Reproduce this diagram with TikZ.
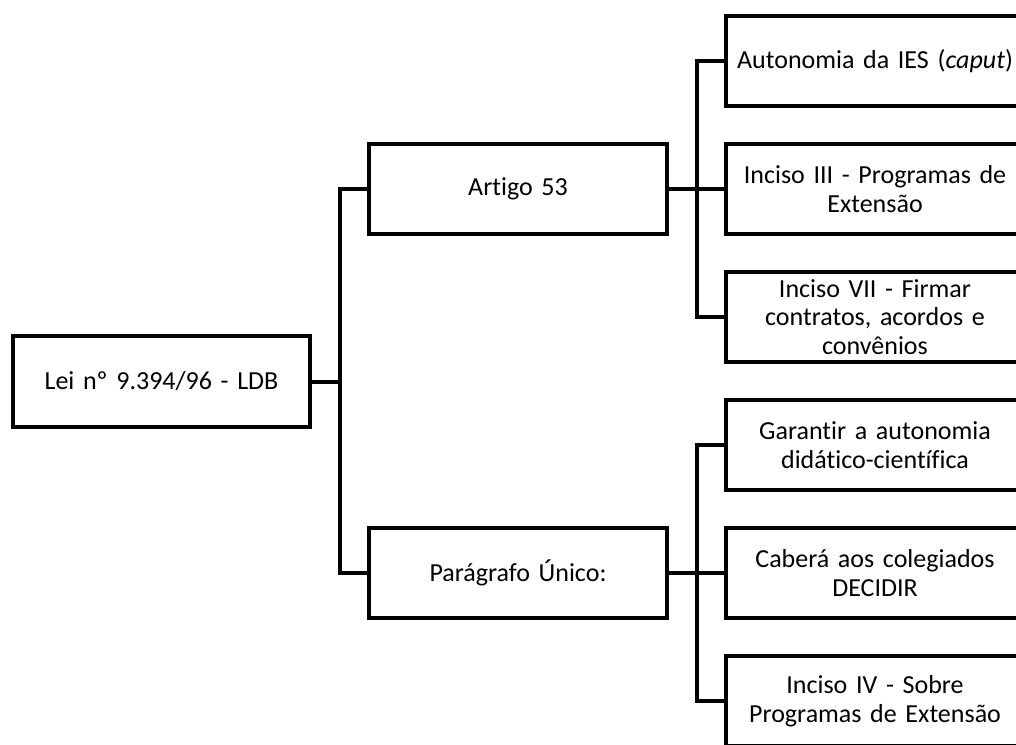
\documentclass[tikz,border=0pt]{standalone}
\usepackage{fontspec}
\setmainfont{Carlito}[Ligatures=CommonOff,WordSpace=0.7]
\begin{document}
\begin{tikzpicture}[x=1pt,y=-1pt,
  box/.style={draw=black,line width=4pt,minimum width=298pt,minimum height=90pt,
    align=center,text width=288pt,inner sep=0pt,font=\fontsize{26}{28.5}\selectfont},
  link/.style={draw=black,line width=4pt}]
\useasboundingbox (0,0) rectangle (1016,744);
\clip (0,0) rectangle (1016,744);
\node[box,minimum width=297pt,minimum height=91pt] (root) at (161.5,381.5) {Lei nº 9.394/96 - LDB};
\node[box] (art) at (518,189) {Artigo 53};
\node[box] (par) at (518,573) {Parágrafo Único:};
\node[box] (a1) at (875,61) {Autonomia da IES (\textit{caput})};
\node[box] (a2) at (875,189) {Inciso III - Programas de\\Extensão};
\node[box] (a3) at (875,317) {Inciso VII - Firmar\\contratos, acordos e\\convênios};
\node[box] (p1) at (875,445) {Garantir a autonomia\\didático-científica};
\node[box] (p2) at (875,573) {Caberá aos colegiados\\DECIDIR};
\node[box] (p3) at (875,701) {Inciso IV - Sobre\\Programas de Extensão};
\coordinate (bl) at (340,381.5);
\coordinate (br1) at (697,189);
\coordinate (br2) at (697,573);
\draw[link] (root.east) -- (bl);
\draw[link] (art.west) -| (bl) |- (par.west);
\draw[link] (art.east) -- (br1);
\draw[link] (a1.west) -| (br1) |- (a3.west);
\draw[link] (br1) -- (a2.west);
\draw[link] (par.east) -- (br2);
\draw[link] (p1.west) -| (br2) |- (p3.west);
\draw[link] (br2) -- (p2.west);
\end{tikzpicture}
\end{document}
